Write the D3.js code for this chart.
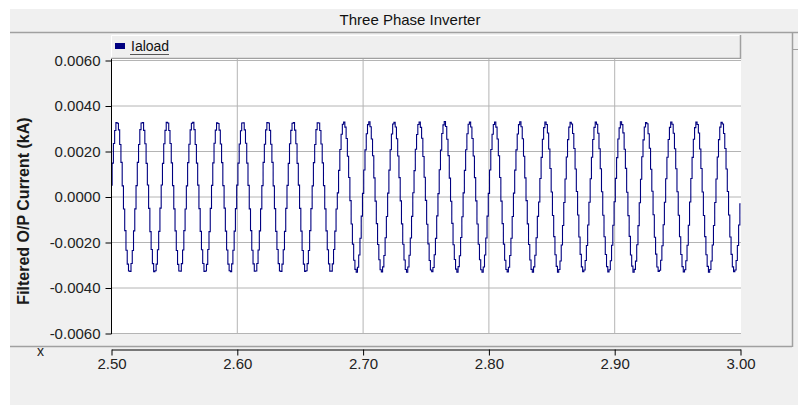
<!DOCTYPE html>
<html lang="en">
<head>
  <meta charset="UTF-8">
  <title>Three Phase Inverter</title>
  <script src="https://d3js.org/d3.v7.min.js"></script>
  <style>
    body {
      margin: 0;
      background: #fff;
    }
    svg {
      display: block;
      font-family: "Liberation Sans", Arial, sans-serif;
    }
    .tick text {
      font-size: 15px;
      fill: #222;
    }
  </style>
</head>
<body>

  <svg width="798" height="405"></svg>

  <script>
    const chartTitle = "Three Phase Inverter";
    const seriesName = "Iaload";
    const yLabel = "Filtered O/P Current (kA)";
    const xTicks = [2.5, 2.6, 2.7, 2.8, 2.9, 3.0];
    const yTicks = [0.006, 0.004, 0.002, 0, -0.002, -0.004, -0.006];

    // Iaload samples in A (plotted in kA), one every 1 ms starting at t = 2.50 s
    const tStart = 2.5;
    const tStep = 0.001;
    const iaload = [
      0.52, 1.49, 2.35, 2.92, 3.27, 3.24, 2.95, 2.31, 1.52, 0.49, -0.53, -1.48, -2.34, -2.95, -3.25, -3.27, -2.92, -2.35, -1.49, -0.52,
      0.50, 1.52, 2.31, 2.96, 3.25, 3.27, 2.93, 2.34, 1.48, 0.53, -0.50, -1.52, -2.31, -2.93, -3.28, -3.24, -2.95, -2.32, -1.51, -0.49,
      0.53, 1.48, 2.34, 2.93, 3.28, 3.25, 2.92, 2.35, 1.50, 0.50, -0.52, -1.49, -2.35, -2.96, -3.25, -3.26, -2.93, -2.33, -1.48, -0.53,
      0.49, 1.51, 2.32, 2.95, 3.24, 3.28, 2.96, 2.31, 1.49, 0.52, -0.51, -1.51, -2.32, -2.92, -3.27, -3.25, -2.96, -2.31, -1.52, -0.50,
      0.51, 1.50, 2.36, 2.94, 3.26, 3.23, 2.94, 2.33, 1.51, 0.50, -0.49, -1.50, -2.33, -2.95, -3.24, -3.28, -2.94, -2.34, -1.50, -0.51,
      0.52, 1.49, 2.33, 2.91, 3.25, 3.26, 2.95, 2.36, 1.49, 0.51, -0.52, -1.48, -2.34, -2.94, -3.26, -3.25, -2.92, -2.33, -1.49, -0.52,
      0.50, 1.52, 2.32, 2.95, 3.27, 3.25, 2.93, 2.32, 1.52, 0.49, -0.51, -1.51, -2.31, -2.93, -3.25, -3.27, -2.95, -2.32, -1.51, -0.50,
      0.51, 1.48, 2.34, 2.93, 3.24, 3.27, 2.94, 2.34, 1.48, 0.52, -0.50, -1.50, -2.35, -2.95, -3.27, -3.24, -2.93, -2.35, -1.48, -0.51,
      0.49, 1.51, 2.31, 2.96, 3.26, 3.25, 2.92, 2.33, 1.50, 0.50, -0.52, -1.49, -2.32, -2.94, -3.26, -3.26, -2.94, -2.31, -1.50, -0.53,
      0.18, 1.17, 2.09, 2.76, 3.20, 3.29, 3.07, 2.57, 1.79, 0.86, -0.16, -1.19, -2.07, -2.78, -3.18, -3.30, -3.09, -2.55, -1.81, -0.84,
      0.16, 1.19, 2.07, 2.78, 3.18, 3.31, 3.09, 2.55, 1.81, 0.84, -0.18, -1.17, -2.09, -2.76, -3.20, -3.29, -3.07, -2.57, -1.79, -0.86,
      0.17, 1.18, 2.08, 2.77, 3.21, 3.28, 3.08, 2.56, 1.80, 0.85, -0.17, -1.18, -2.08, -2.77, -3.19, -3.31, -3.08, -2.56, -1.80, -0.85,
      0.19, 1.16, 2.10, 2.75, 3.19, 3.30, 3.06, 2.58, 1.78, 0.87, -0.15, -1.20, -2.06, -2.79, -3.21, -3.28, -3.10, -2.54, -1.82, -0.83,
      0.15, 1.20, 2.06, 2.79, 3.17, 3.32, 3.10, 2.54, 1.82, 0.83, -0.19, -1.16, -2.10, -2.75, -3.17, -3.30, -3.06, -2.58, -1.78, -0.87,
      0.18, 1.17, 2.08, 2.78, 3.20, 3.29, 3.08, 2.57, 1.80, 0.85, -0.17, -1.19, -2.08, -2.76, -3.20, -3.31, -3.08, -2.55, -1.80, -0.84,
      0.16, 1.19, 2.09, 2.76, 3.19, 3.30, 3.07, 2.55, 1.81, 0.86, -0.18, -1.17, -2.07, -2.78, -3.19, -3.29, -3.09, -2.57, -1.81, -0.86,
      0.17, 1.18, 2.07, 2.77, 3.18, 3.31, 3.09, 2.56, 1.79, 0.84, -0.16, -1.18, -2.09, -2.77, -3.18, -3.30, -3.07, -2.56, -1.79, -0.85,
      -0.22, 0.81, 1.74, 2.54, 3.05, 3.30, 3.19, 2.81, 2.11, 1.25, 0.22, -0.81, -1.74, -2.54, -3.05, -3.30, -3.19, -2.81, -2.11, -1.25,
      -0.24, 0.79, 1.76, 2.52, 3.07, 3.28, 3.21, 2.79, 2.13, 1.23, 0.24, -0.79, -1.76, -2.52, -3.07, -3.28, -3.21, -2.79, -2.13, -1.23,
      -0.23, 0.80, 1.75, 2.53, 3.06, 3.29, 3.20, 2.80, 2.12, 1.24, 0.23, -0.80, -1.75, -2.53, -3.06, -3.29, -3.20, -2.80, -2.12, -1.24,
      -0.21, 0.82, 1.73, 2.55, 3.04, 3.31, 3.18, 2.82, 2.10, 1.26, 0.21, -0.82, -1.73, -2.55, -3.04, -3.31, -3.18, -2.82, -2.10, -1.26,
      -0.25, 0.78, 1.77, 2.51, 3.08, 3.27, 3.22, 2.78, 2.14, 1.22, 0.25, -0.78, -1.77, -2.51, -3.08, -3.27, -3.22, -2.78, -2.14, -1.22,
      -0.23, 0.80, 1.75, 2.53, 3.06, 3.30, 3.20, 2.80, 2.12, 1.24, 0.23, -0.80, -1.75, -2.53, -3.06, -3.29, -3.20, -2.80, -2.12, -1.24,
      -0.22, 0.81, 1.74, 2.54, 3.05, 3.29, 3.19, 2.81, 2.11, 1.25, 0.22, -0.81, -1.74, -2.54, -3.05, -3.30, -3.19, -2.81, -2.11, -1.25,
      -0.24, 0.79, 1.76, 2.52, 3.07, 3.28, 3.21, 2.79, 2.13, 1.23, 0.24, -0.79, -1.76, -2.52, -3.07, -3.28, -3.21, -2.79, -2.13, -1.23,
      -0.30
    ];

    const plot = { left: 111, right: 741, top: 59, bottom: 334 };
    const panelColor = "#f0f0f0";
    const frameColor = "#a0a0a0";
    const gridColor = "#b4b4b4";
    const lineColor = "#000080";

    const svg = d3.select("svg");

    const xScale = d3.scaleLinear().domain([2.5, 3.0]).range([111.5, 740.5]);
    const yScale = d3.scaleLinear().domain([-0.006, 0.006]).range([333.5, 60.5]);

    // gray window panel
    svg.append("rect")
      .attr("x", 10).attr("y", 9)
      .attr("width", 788).attr("height", 396)
      .attr("fill", panelColor);

    // title bar
    svg.append("text")
      .attr("x", 410).attr("y", 25)
      .attr("text-anchor", "middle")
      .style("font-size", "15px")
      .attr("fill", "#111")
      .text(chartTitle);

    svg.append("line")
      .attr("x1", 10).attr("x2", 798)
      .attr("y1", 32.5).attr("y2", 32.5)
      .attr("stroke", frameColor).attr("stroke-width", 1.5);

    // right hand frame
    svg.append("line")
      .attr("x1", 792.5).attr("x2", 792.5)
      .attr("y1", 32).attr("y2", 347)
      .attr("stroke", frameColor).attr("stroke-width", 1.5);
    svg.append("line")
      .attr("x1", 793).attr("x2", 798)
      .attr("y1", 49.5).attr("y2", 49.5)
      .attr("stroke", frameColor);

    // legend bar
    svg.append("rect")
      .attr("x", plot.left).attr("y", 35)
      .attr("width", plot.right - plot.left).attr("height", 24)
      .attr("fill", "#efefef");
    svg.append("path")
      .attr("d", `M${plot.left + 0.5},58 V35.5 H${plot.right - 1}`)
      .attr("fill", "none").attr("stroke", "#fff");
    svg.append("path")
      .attr("d", `M${plot.left},58.5 H${plot.right - 0.5} V35`)
      .attr("fill", "none").attr("stroke", frameColor).attr("stroke-width", 1.5);

    svg.append("rect")
      .attr("x", 115).attr("y", 43)
      .attr("width", 10).attr("height", 6)
      .attr("fill", lineColor);
    svg.append("text")
      .attr("x", 131).attr("y", 51)
      .style("font-size", "14px")
      .attr("fill", "#111")
      .text(seriesName);
    svg.append("line")
      .attr("x1", 130).attr("x2", 169)
      .attr("y1", 54.5).attr("y2", 54.5)
      .attr("stroke", "#555");

    // plot area
    svg.append("rect")
      .attr("x", plot.left).attr("y", plot.top)
      .attr("width", plot.right - plot.left).attr("height", plot.bottom - plot.top)
      .attr("fill", "#fff");

    svg.append("g")
      .selectAll("line")
      .data(yTicks)
      .join("line")
      .attr("x1", plot.left).attr("x2", plot.right)
      .attr("y1", d => yScale(d)).attr("y2", d => yScale(d))
      .attr("stroke", gridColor);

    svg.append("g")
      .selectAll("line")
      .data(xTicks.slice(1, -1))
      .join("line")
      .attr("x1", d => xScale(d)).attr("x2", d => xScale(d))
      .attr("y1", plot.top).attr("y2", plot.bottom)
      .attr("stroke", gridColor);

    // waveform, drawn as a stepped trace like the simulator output
    const line = d3.line()
      .x((d, i) => xScale(tStart + i * tStep))
      .y(d => yScale(d / 1000))
      .curve(d3.curveStep);

    svg.append("path")
      .datum(iaload)
      .attr("d", line)
      .attr("fill", "none")
      .attr("stroke", lineColor)
      .attr("stroke-width", 1.1);

    // y axis
    const yAxis = svg.append("g")
      .attr("transform", `translate(${plot.left + 0.5},0)`)
      .call(d3.axisLeft(yScale).tickValues(yTicks).tickSize(6).tickSizeOuter(0).tickPadding(5)
        .tickFormat(d => d.toFixed(4)));
    yAxis.select(".domain").attr("d", `M0,${plot.top}V${plot.bottom}`);

    svg.append("text")
      .attr("transform", `translate(29,211) rotate(-90)`)
      .attr("text-anchor", "middle")
      .style("font-size", "16px")
      .style("font-weight", "bold")
      .attr("fill", "#1a1a1a")
      .text(yLabel);

    // x axis strip
    svg.append("line")
      .attr("x1", 10).attr("x2", 792)
      .attr("y1", 346.5).attr("y2", 346.5)
      .attr("stroke", frameColor).attr("stroke-width", 1.5);

    svg.append("g")
      .attr("transform", "translate(0,349.5)")
      .call(d3.axisBottom(xScale).tickValues(xTicks).tickSize(6).tickSizeOuter(0)
        .tickFormat(d => d.toFixed(2)));

    svg.append("text")
      .attr("x", 37).attr("y", 356)
      .style("font-size", "14px")
      .attr("fill", "#222")
      .text("x");
  </script>
</body>
</html>
